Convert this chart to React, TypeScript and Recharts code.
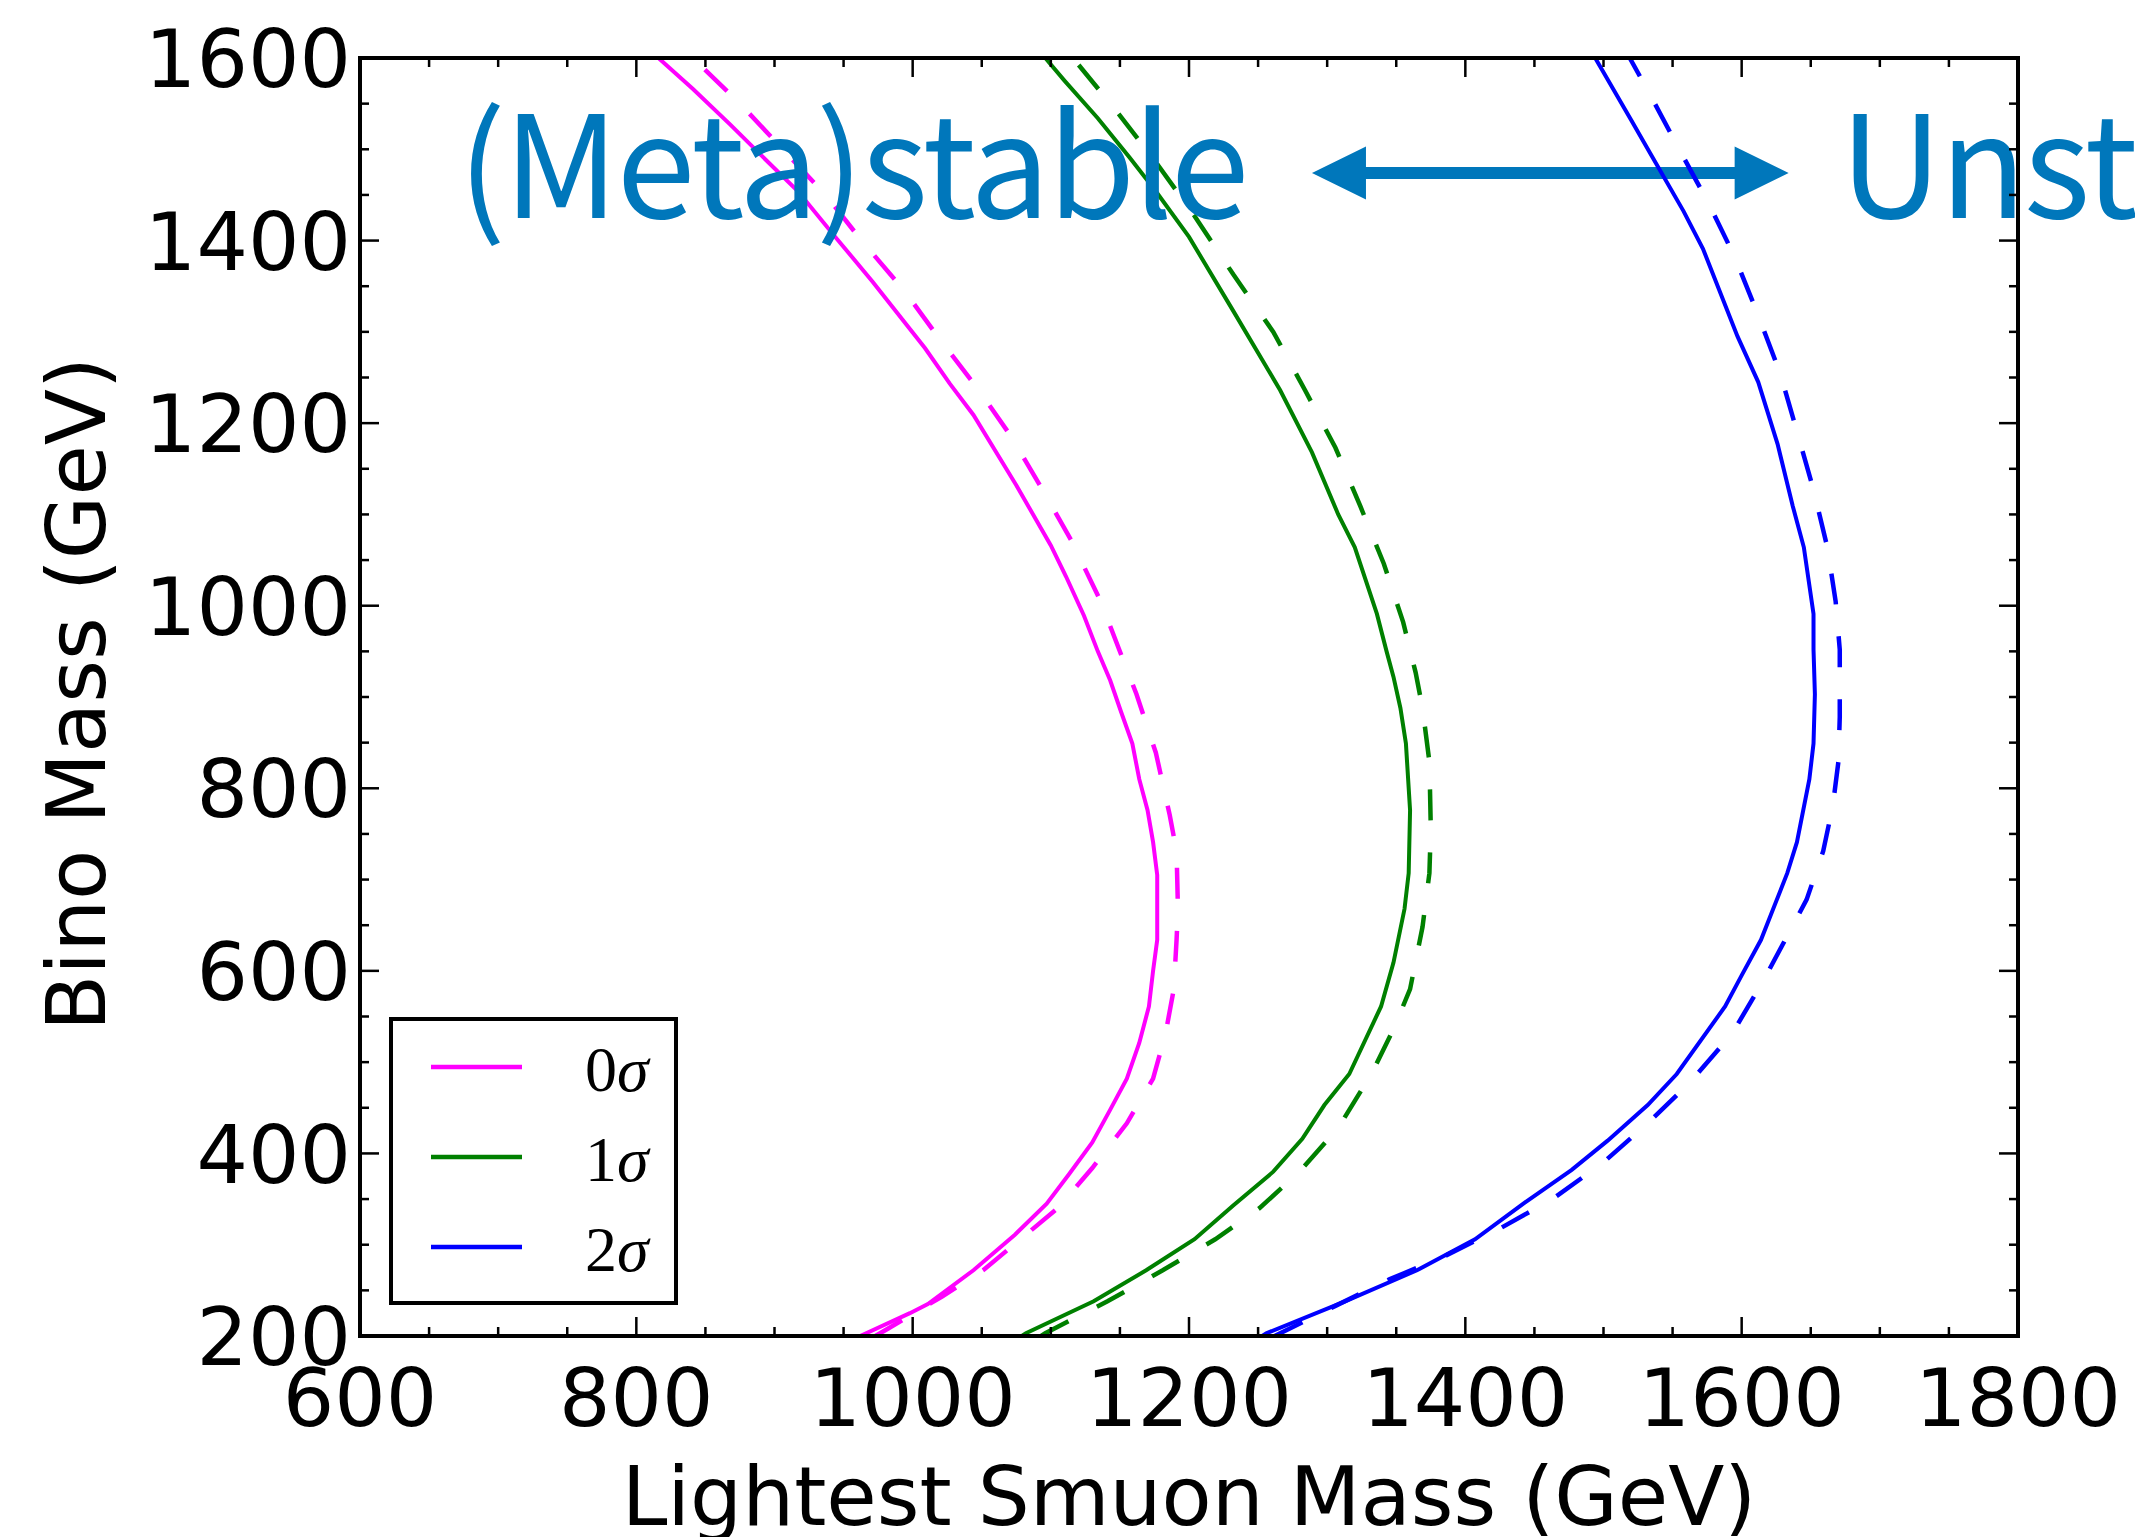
import React from 'react';
import { LineChart, Line, XAxis, YAxis, Legend, ReferenceDot, ReferenceLine } from 'recharts';

// tick positions (major every 200, minor every 50)
const xTicks = [600, 650, 700, 750, 800, 850, 900, 950, 1000, 1050, 1100, 1150, 1200, 1250, 1300, 1350, 1400, 1450, 1500, 1550, 1600, 1650, 1700, 1750, 1800];
const yTicks = [200, 250, 300, 350, 400, 450, 500, 550, 600, 650, 700, 750, 800, 850, 900, 950, 1000, 1050, 1100, 1150, 1200, 1250, 1300, 1350, 1400, 1450, 1500, 1550, 1600];

type Pt = { x: number; y: number };

// 0 sigma contour (solid / dashed)
const sigma0: Pt[] = [
  { x: 962, y: 200 }, { x: 998, y: 225 }, { x: 1011, y: 235 }, { x: 1044, y: 272 }, { x: 1074, y: 311 },
  { x: 1097, y: 345 }, { x: 1113, y: 377 }, { x: 1130, y: 412 }, { x: 1143, y: 448 }, { x: 1155, y: 482 },
  { x: 1164, y: 521 }, { x: 1171, y: 561 }, { x: 1174, y: 600 }, { x: 1177, y: 634 }, { x: 1177, y: 705 },
  { x: 1174, y: 741 }, { x: 1170, y: 776 }, { x: 1164, y: 810 }, { x: 1159, y: 849 }, { x: 1151, y: 883 },
  { x: 1143, y: 918 }, { x: 1134, y: 950 }, { x: 1124, y: 989 }, { x: 1111, y: 1032 }, { x: 1100, y: 1066 },
  { x: 1075, y: 1132 }, { x: 1044, y: 1209 }, { x: 1027, y: 1243 }, { x: 1009, y: 1282 }, { x: 971, y: 1355 },
  { x: 944, y: 1404 }, { x: 917, y: 1454 }, { x: 894, y: 1488 }, { x: 868, y: 1527 }, { x: 841, y: 1566 },
  { x: 816, y: 1600 },
];
const sigma0Dashed: Pt[] = [
  { x: 973, y: 200 }, { x: 982, y: 208 }, { x: 1021, y: 243 }, { x: 1051, y: 272 }, { x: 1078, y: 306 },
  { x: 1105, y: 340 }, { x: 1130, y: 384 }, { x: 1155, y: 433 }, { x: 1174, y: 482 }, { x: 1183, y: 531 },
  { x: 1189, y: 580 }, { x: 1191, y: 634 }, { x: 1192, y: 668 }, { x: 1191, y: 731 }, { x: 1186, y: 771 },
  { x: 1176, y: 839 }, { x: 1162, y: 903 }, { x: 1151, y: 946 }, { x: 1136, y: 1005 }, { x: 1115, y: 1071 },
  { x: 1094, y: 1127 }, { x: 1071, y: 1186 }, { x: 1048, y: 1236 }, { x: 1020, y: 1291 }, { x: 994, y: 1345 },
  { x: 963, y: 1400 }, { x: 937, y: 1450 }, { x: 906, y: 1500 }, { x: 875, y: 1550 }, { x: 841, y: 1600 },
];

// 1 sigma contour
const sigma1: Pt[] = [
  { x: 1079, y: 200 }, { x: 1082, y: 203 }, { x: 1131, y: 238 }, { x: 1169, y: 272 }, { x: 1204, y: 306 },
  { x: 1232, y: 343 }, { x: 1261, y: 380 }, { x: 1282, y: 416 }, { x: 1298, y: 453 }, { x: 1316, y: 487 },
  { x: 1339, y: 561 }, { x: 1348, y: 609 }, { x: 1356, y: 668 }, { x: 1359, y: 707 }, { x: 1360, y: 776 },
  { x: 1357, y: 849 }, { x: 1353, y: 888 }, { x: 1348, y: 922 }, { x: 1343, y: 950 }, { x: 1336, y: 991 },
  { x: 1320, y: 1064 }, { x: 1308, y: 1100 }, { x: 1289, y: 1168 }, { x: 1266, y: 1236 }, { x: 1232, y: 1323 },
  { x: 1200, y: 1404 }, { x: 1176, y: 1454 }, { x: 1157, y: 1491 }, { x: 1134, y: 1534 }, { x: 1110, y: 1575 },
  { x: 1096, y: 1600 },
];
const sigma1Dashed: Pt[] = [
  { x: 1093, y: 200 }, { x: 1096, y: 203 }, { x: 1141, y: 238 }, { x: 1181, y: 272 }, { x: 1219, y: 306 },
  { x: 1251, y: 340 }, { x: 1280, y: 380 }, { x: 1308, y: 428 }, { x: 1332, y: 487 }, { x: 1348, y: 536 },
  { x: 1360, y: 580 }, { x: 1369, y: 648 }, { x: 1374, y: 707 }, { x: 1375, y: 756 }, { x: 1374, y: 829 },
  { x: 1369, y: 888 }, { x: 1364, y: 927 }, { x: 1355, y: 982 }, { x: 1341, y: 1046 }, { x: 1324, y: 1109 },
  { x: 1306, y: 1173 }, { x: 1284, y: 1236 }, { x: 1261, y: 1300 }, { x: 1232, y: 1363 }, { x: 1204, y: 1427 },
  { x: 1176, y: 1486 }, { x: 1148, y: 1541 }, { x: 1116, y: 1600 },
];

// 2 sigma contour
const sigma2: Pt[] = [
  { x: 1253, y: 200 }, { x: 1256, y: 203 }, { x: 1313, y: 238 }, { x: 1365, y: 272 }, { x: 1407, y: 306 },
  { x: 1442, y: 345 }, { x: 1477, y: 382 }, { x: 1503, y: 414 }, { x: 1532, y: 453 }, { x: 1553, y: 487 },
  { x: 1588, y: 561 }, { x: 1600, y: 595 }, { x: 1614, y: 634 }, { x: 1633, y: 707 }, { x: 1640, y: 741 },
  { x: 1649, y: 810 }, { x: 1652, y: 849 }, { x: 1653, y: 903 }, { x: 1652, y: 952 }, { x: 1652, y: 991 },
  { x: 1645, y: 1064 }, { x: 1637, y: 1109 }, { x: 1626, y: 1177 }, { x: 1612, y: 1245 }, { x: 1597, y: 1295 },
  { x: 1572, y: 1391 }, { x: 1558, y: 1432 }, { x: 1534, y: 1495 }, { x: 1520, y: 1532 }, { x: 1494, y: 1600 },
];
const sigma2Dashed: Pt[] = [
  { x: 1262, y: 200 }, { x: 1266, y: 203 }, { x: 1306, y: 233 }, { x: 1345, y: 262 }, { x: 1383, y: 286 },
  { x: 1423, y: 316 }, { x: 1463, y: 350 }, { x: 1499, y: 389 }, { x: 1532, y: 433 }, { x: 1562, y: 477 },
  { x: 1593, y: 531 }, { x: 1616, y: 590 }, { x: 1635, y: 644 }, { x: 1647, y: 678 }, { x: 1659, y: 731 },
  { x: 1666, y: 781 }, { x: 1670, y: 829 }, { x: 1671, y: 878 }, { x: 1671, y: 952 }, { x: 1668, y: 1005 },
  { x: 1662, y: 1064 }, { x: 1652, y: 1127 }, { x: 1640, y: 1191 }, { x: 1628, y: 1254 }, { x: 1612, y: 1318 },
  { x: 1595, y: 1382 }, { x: 1576, y: 1441 }, { x: 1558, y: 1491 }, { x: 1534, y: 1559 }, { x: 1519, y: 1600 },
];

// annotations, in data coordinates
const stableLabel = { x: 671, y: 1425, text: '(Meta)stable' };
const unstableLabel = { x: 1671, y: 1425, text: 'Unstable' };
const arrowFrom = { x: 1289, y: 1474 };
const arrowTo = { x: 1634, y: 1474 };

const TICK_FONT = "'DejaVu Sans', sans-serif";
const NOTE_COLOR = '#0077BB';
const X_GAP = 32;
const Y_GAP = 9;

const isMajor = (v: number) => v % 200 === 0;
const tickLen = (v: number) => (isMajor(v) ? 19 : 9);

function BottomTick({ x, y, payload }: any) {
  const v = payload.value;
  const y0 = y - X_GAP;
  return (
    <g>
      <line x1={x} y1={y0} x2={x} y2={y0 - tickLen(v)} stroke="#000" strokeWidth={2.5} />
      {isMajor(v) && (
        <text x={x} y={y} dy="0.71em" textAnchor="middle" fontFamily={TICK_FONT} fontSize={81} fill="#000">
          {v}
        </text>
      )}
    </g>
  );
}

function TopTick({ x, y, payload }: any) {
  return <line x1={x} y1={y} x2={x} y2={y + tickLen(payload.value)} stroke="#000" strokeWidth={2.5} />;
}

function LeftTick({ x, y, payload }: any) {
  const v = payload.value;
  const x0 = x + Y_GAP;
  return (
    <g>
      <line x1={x0} y1={y} x2={x0 + tickLen(v)} y2={y} stroke="#000" strokeWidth={2.5} />
      {isMajor(v) && (
        <text x={x} y={y} dy="0.36em" textAnchor="end" fontFamily={TICK_FONT} fontSize={81} fill="#000">
          {v}
        </text>
      )}
    </g>
  );
}

function RightTick({ x, y, payload }: any) {
  return <line x1={x} y1={y} x2={x - tickLen(payload.value)} y2={y} stroke="#000" strokeWidth={2.5} />;
}

function XLabel({ viewBox }: any) {
  return (
    <text x={viewBox.x + viewBox.width / 2} y={viewBox.y + 189} textAnchor="middle" fontFamily={TICK_FONT} fontSize={82} fill="#000">
      Lightest Smuon Mass (GeV)
    </text>
  );
}

function YLabel({ viewBox }: any) {
  const cx = viewBox.x + 45;
  const cy = viewBox.y + viewBox.height / 2 - 3;
  return (
    <text x={cx} y={cy} transform={`rotate(-90, ${cx}, ${cy})`} textAnchor="middle" fontFamily={TICK_FONT} fontSize={82} fill="#000">
      Bino Mass (GeV)
    </text>
  );
}

function NoteText(text: string) {
  return (props: any) => (
    <text x={props.cx} y={props.cy} fontFamily="'Noto Sans CJK JP', sans-serif" fontSize={142} letterSpacing={-2.5} fill={NOTE_COLOR}>
      {text}
    </text>
  );
}

function DoubleArrow(props: any) {
  const { x1, y1, x2 } = props;
  const head = 54;
  const half = 26.5;
  const shaft = 6;
  const d = [
    `M ${x1} ${y1}`,
    `L ${x1 + head} ${y1 - half}`,
    `L ${x1 + head} ${y1 - shaft}`,
    `L ${x2 - head} ${y1 - shaft}`,
    `L ${x2 - head} ${y1 - half}`,
    `L ${x2} ${y1}`,
    `L ${x2 - head} ${y1 + half}`,
    `L ${x2 - head} ${y1 + shaft}`,
    `L ${x1 + head} ${y1 + shaft}`,
    `L ${x1 + head} ${y1 + half}`,
    'Z',
  ].join(' ');
  return <path d={d} fill={NOTE_COLOR} stroke="none" />;
}

function SigmaLegend({ payload }: any) {
  const items = (payload || []).filter((p: any) => p.type !== 'none');
  return (
    <svg width={289} height={288} style={{ display: 'block' }}>
      <rect x={2} y={2} width={285} height={284} fill="#fff" stroke="#000" strokeWidth={4} />
      {items.map((p: any, i: number) => {
        const cy = 50 + i * 90;
        const name = String(p.value);
        return (
          <g key={name}>
            <line x1={42} x2={133} y1={cy} y2={cy} stroke={p.color} strokeWidth={4.5} />
            <text x={196} y={cy + 24} fontFamily="'Liberation Serif', serif" fontSize={64} fill="#000">
              {name.slice(0, -1)}
              <tspan fontStyle="italic">{name.slice(-1)}</tspan>
            </text>
          </g>
        );
      })}
    </svg>
  );
}

const frame = { stroke: '#000', strokeWidth: 4, strokeLinecap: 'square' as const };

export default function App() {
  return (
    <div style={{ position: 'absolute', left: 0, top: 0, background: '#fff' }}>
      <LineChart width={2135} height={1537} margin={{ top: 38, right: 97, bottom: 11, left: 60 }}>
        <XAxis
          dataKey="x"
          type="number"
          domain={[600, 1800]}
          allowDataOverflow
          ticks={xTicks}
          interval={0}
          height={190}
          tickSize={0}
          tickMargin={X_GAP}
          tickLine={false}
          tick={BottomTick}
          axisLine={frame}
          label={{ content: XLabel }}
        />
        <XAxis
          xAxisId="top"
          orientation="top"
          dataKey="x"
          type="number"
          domain={[600, 1800]}
          allowDataOverflow
          ticks={xTicks}
          interval={0}
          height={20}
          tickSize={0}
          tickMargin={0}
          tickLine={false}
          tick={TopTick}
          axisLine={frame}
        />
        <YAxis
          dataKey="y"
          type="number"
          domain={[200, 1600]}
          allowDataOverflow
          ticks={yTicks}
          interval={0}
          width={300}
          tickSize={0}
          tickMargin={Y_GAP}
          tickLine={false}
          tick={LeftTick}
          axisLine={frame}
          label={{ content: YLabel }}
        />
        <YAxis
          yAxisId="right"
          orientation="right"
          dataKey="y"
          type="number"
          domain={[200, 1600]}
          allowDataOverflow
          ticks={yTicks}
          interval={0}
          width={20}
          tickSize={0}
          tickMargin={0}
          tickLine={false}
          tick={RightTick}
          axisLine={frame}
        />

        <ReferenceDot x={stableLabel.x} y={stableLabel.y} r={0} ifOverflow="visible" shape={NoteText(stableLabel.text)} />
        <ReferenceDot x={unstableLabel.x} y={unstableLabel.y} r={0} ifOverflow="visible" shape={NoteText(unstableLabel.text)} />
        <ReferenceLine segment={[arrowFrom, arrowTo]} ifOverflow="visible" shape={DoubleArrow} />

        <Line data={sigma0} dataKey="y" name="0σ" stroke="#FF00FF" strokeWidth={4} dot={false} activeDot={false} isAnimationActive={false} />
        <Line data={sigma1} dataKey="y" name="1σ" stroke="#008000" strokeWidth={4} dot={false} activeDot={false} isAnimationActive={false} />
        <Line data={sigma2} dataKey="y" name="2σ" stroke="#0000FF" strokeWidth={4} dot={false} activeDot={false} isAnimationActive={false} />
        <Line data={sigma0Dashed} dataKey="y" legendType="none" stroke="#FF00FF" strokeWidth={4.5} strokeDasharray="31 32" dot={false} activeDot={false} isAnimationActive={false} />
        <Line data={sigma1Dashed} dataKey="y" legendType="none" stroke="#008000" strokeWidth={4.5} strokeDasharray="31 32" dot={false} activeDot={false} isAnimationActive={false} />
        <Line data={sigma2Dashed} dataKey="y" legendType="none" stroke="#0000FF" strokeWidth={4.5} strokeDasharray="31 32" dot={false} activeDot={false} isAnimationActive={false} />

        <Legend
          layout="vertical"
          align="center"
          verticalAlign="middle"
          width={289}
          height={288}
          wrapperStyle={{ left: 389, top: 1017, width: 289, height: 288 }}
          content={SigmaLegend}
        />
      </LineChart>
    </div>
  );
}
